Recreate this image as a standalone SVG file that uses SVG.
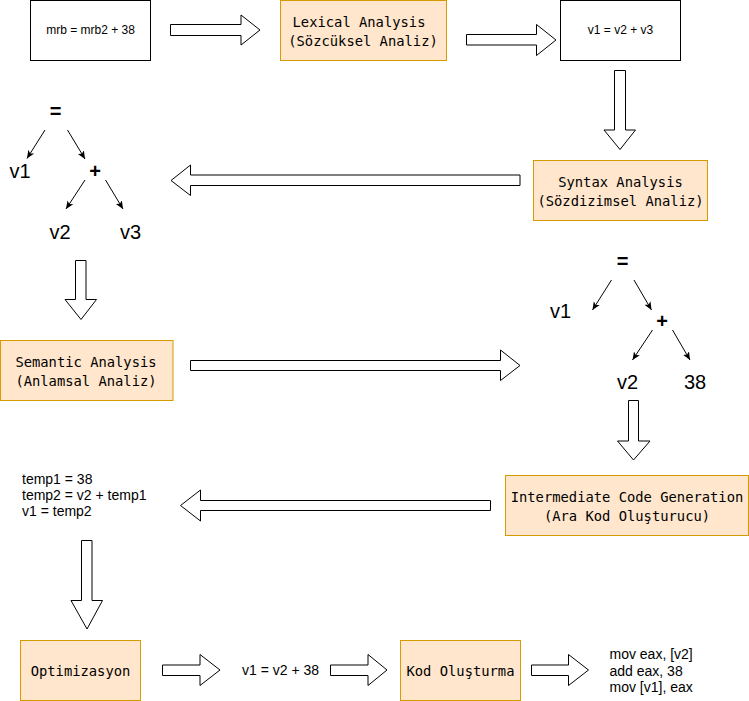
<svg xmlns="http://www.w3.org/2000/svg" width="749" height="701" viewBox="0 0 749 701">
<defs>
<marker id="ah" markerUnits="userSpaceOnUse" markerWidth="10" markerHeight="10" refX="8" refY="3.5" orient="auto" viewBox="0 0 10 7">
<path d="M0,0 L8,3.5 L0,7 L2,3.5 z" fill="#000"/>
</marker>
</defs>
<style>
.plain{fill:#fff;stroke:#000;stroke-width:1}
.orange{fill:#ffe6cc;stroke:#d79b00;stroke-width:1}
.mono{font-family:"DejaVu Sans Mono",monospace;font-size:13.8px;fill:#000;text-anchor:middle;dominant-baseline:central}
.sans{font-family:"Liberation Sans",Arial,sans-serif;fill:#000;dominant-baseline:central}
.s12{font-size:12px;text-anchor:middle}
.s14{font-size:14px}
.s20{font-size:20px;text-anchor:middle}
.b{font-weight:bold}
.block{fill:#fff;stroke:#000;stroke-width:1}
.edge{fill:none;stroke:#000;stroke-width:1;marker-end:url(#ah)}
</style>
<rect width="749" height="701" fill="#fff"/>
<g id="connectors">
<polygon class="block" points="170.5,24.5 241,24.5 241,15 260,30 241,45 241,35.5 170.5,35.5"/>
<polygon class="block" points="466.5,34.5 536.5,34.5 536.5,24.5 556,40 536.5,55.5 536.5,45 466.5,45"/>
<polygon class="block" points="614.5,70.5 625.5,70.5 625.5,130 635.5,130 620,149.5 604,130 614.5,130"/>
<polygon class="block" points="520,175 190.5,175 190.5,165 171,180.5 190.5,195.5 190.5,185.5 520,185.5"/>
<polygon class="block" points="75.5,260.5 86,260.5 86,299.5 96.5,299.5 81,319.5 65,299.5 75.5,299.5"/>
<polygon class="block" points="190.5,360.5 500.5,360.5 500.5,350 520,365.5 500.5,380.5 500.5,370.5 190.5,370.5"/>
<polygon class="block" points="628.5,400.5 638.5,400.5 638.5,441 650,441 633.5,460 617.5,441 628.5,441"/>
<polygon class="block" points="490.5,500.5 200.5,500.5 200.5,490 180.5,505.5 200.5,521 200.5,510.5 490.5,510.5"/>
<polygon class="block" points="81.5,540.5 92,540.5 92,600.5 102.5,600.5 87,629 71,600.5 81.5,600.5"/>
<polygon class="block" points="162.5,665 200,665 200,654.5 220,670 200,685.5 200,675.5 162.5,675.5"/>
<polygon class="block" points="330.5,665 368,665 368,654.5 387,670 368,685.5 368,675.5 330.5,675.5"/>
<polygon class="block" points="531.5,665 568.5,665 568.5,654.5 588.5,670 568.5,685.5 568.5,675.5 531.5,675.5"/>
<line class="edge" x1="45" y1="130" x2="27" y2="158.5"/>
<line class="edge" x1="67.5" y1="130" x2="85" y2="159"/>
<line class="edge" x1="85" y1="180" x2="66" y2="209"/>
<line class="edge" x1="105.5" y1="180" x2="123" y2="209"/>
<line class="edge" x1="611.5" y1="280" x2="592.5" y2="310"/>
<line class="edge" x1="634" y1="280" x2="651.5" y2="310"/>
<line class="edge" x1="652.5" y1="330" x2="632.5" y2="360"/>
<line class="edge" x1="672.5" y1="330" x2="690" y2="360"/>
</g>
<g id="source">
<rect class="plain" x="30.5" y="0.5" width="120" height="60"/>
<text class="sans s12" x="90.5" y="30">mrb = mrb2 + 38</text>
</g>
<g id="lexical">
<rect class="orange" x="280.5" y="0.5" width="166" height="60"/>
<text class="mono" x="359" y="21.5">Lexical Analysis</text>
<text class="mono" x="363" y="41">(Sözcüksel Analiz)</text>
</g>
<g id="tokens">
<rect class="plain" x="560.5" y="0.5" width="120" height="60"/>
<text class="sans s12" x="620.5" y="30">v1 = v2 + v3</text>
</g>
<g id="syntax">
<rect class="orange" x="533.5" y="160.5" width="174" height="60"/>
<text class="mono" x="620.5" y="181.5">Syntax Analysis</text>
<text class="mono" x="620.5" y="200.5">(Sözdizimsel Analiz)</text>
</g>
<g id="tree1">
<text class="sans s20 b" x="55.5" y="111">=</text>
<text class="sans s20" x="20" y="171">v1</text>
<text class="sans s20 b" x="95" y="170.5">+</text>
<text class="sans s20" x="60" y="231.5">v2</text>
<text class="sans s20" x="130.5" y="231.5">v3</text>
</g>
<g id="semantic">
<rect class="orange" x="0.5" y="340.5" width="172.5" height="60"/>
<text class="mono" x="86" y="362">Semantic Analysis</text>
<text class="mono" x="86" y="381">(Anlamsal Analiz)</text>
</g>
<g id="tree2">
<text class="sans s20 b" x="622.5" y="261">=</text>
<text class="sans s20" x="560.5" y="311">v1</text>
<text class="sans s20 b" x="662" y="320.5">+</text>
<text class="sans s20" x="627.5" y="381.5">v2</text>
<text class="sans s20" x="695" y="381.5">38</text>
</g>
<g id="intermediate">
<rect class="orange" x="505.5" y="475.5" width="243" height="60"/>
<text class="mono" x="627" y="497">Intermediate Code Generation</text>
<text class="mono" x="627" y="516">(Ara Kod Oluşturucu)</text>
</g>
<g id="tac">
<text class="sans s14" x="22" y="479">temp1 = 38</text>
<text class="sans s14" x="22" y="495">temp2 = v2 + temp1</text>
<text class="sans s14" x="22" y="511">v1 = temp2</text>
</g>
<g id="optimizasyon">
<rect class="orange" x="20.5" y="640.5" width="120" height="60"/>
<text class="mono" x="80.5" y="671">Optimizasyon</text>
</g>
<g id="optimized">
<text class="sans s14" x="280.5" y="670" text-anchor="middle">v1 = v2 + 38</text>
</g>
<g id="kod">
<rect class="orange" x="400.5" y="640.5" width="120" height="60"/>
<text class="mono" x="460.5" y="671">Kod Oluşturma</text>
</g>
<g id="asm">
<text class="sans s14" x="609.5" y="653.5">mov eax, [v2]</text>
<text class="sans s14" x="609.5" y="670.5">add eax, 38</text>
<text class="sans s14" x="609.5" y="687">mov [v1], eax</text>
</g>
</svg>
